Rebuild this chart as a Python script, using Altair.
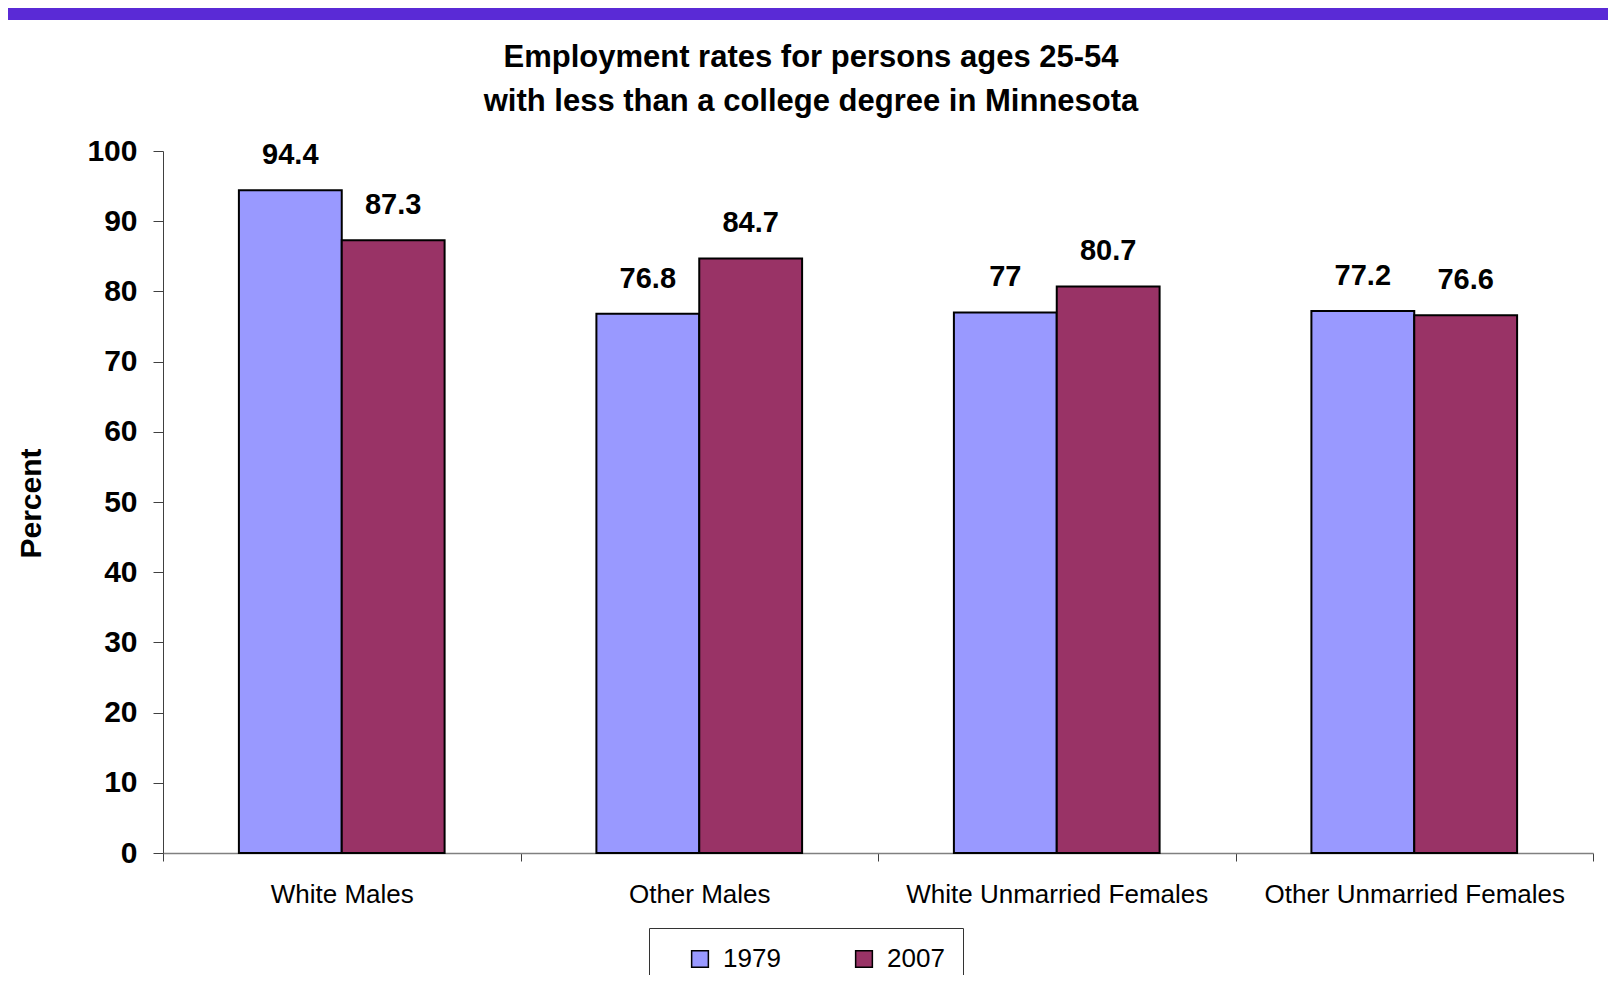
import altair as alt
import pandas as pd

categories = ["White Males", "Other Males", "White Unmarried Females", "Other Unmarried Females"]
years = ["1979", "2007"]
values_1979 = [94.4, 76.8, 77, 77.2]
values_2007 = [87.3, 84.7, 80.7, 76.6]
labels_1979 = ["94.4", "76.8", "77", "77.2"]
labels_2007 = ["87.3", "84.7", "80.7", "76.6"]
colors = ["#9999FF", "#993366"]
title_lines = ["Employment rates for persons ages 25-54", "with less than a college degree in Minnesota"]

rows = []
for i, c in enumerate(categories):
    rows.append({"category": c, "year": years[0], "value": values_1979[i], "label": labels_1979[i]})
    rows.append({"category": c, "year": years[1], "value": values_2007[i], "label": labels_2007[i]})
df = pd.DataFrame(rows)

FONT = "Liberation Sans"
W, H = 1430, 702

x_enc = alt.X(
    "category:N",
    sort=categories,
    title=None,
    scale=alt.Scale(paddingInner=0, paddingOuter=0),
    axis=alt.Axis(
        labelAngle=0,
        labelFont=FONT,
        labelFontSize=26,
        labelColor="#000000",
        labelPadding=20,
        labelLimit=400,
        tickBand="extent",
        tickSize=8,
        tickColor="#404040",
        domainColor="#808080",
        domainWidth=1.5,
        grid=False,
    ),
)
xoff_enc = alt.XOffset("year:N", sort=years, scale=alt.Scale(paddingInner=0, paddingOuter=0.738))
y_enc = alt.Y(
    "value:Q",
    scale=alt.Scale(domain=[0, 100], nice=False, zero=True),
    title="Percent",
    axis=alt.Axis(
        values=list(range(0, 101, 10)),
        labelFont=FONT,
        labelFontSize=30,
        labelFontWeight="bold",
        labelColor="#000000",
        labelPadding=16,
        tickSize=10,
        tickColor="#404040",
        domainColor="#404040",
        grid=False,
        titleFont=FONT,
        titleFontSize=30,
        titleFontWeight="bold",
        titleColor="#000000",
        titleX=-123,
        titleY=352,
        titleAngle=270,
        titleAlign="center",
        titleBaseline="alphabetic",
    ),
)

base = alt.Chart(df)

bars = base.mark_bar(stroke="#000000", strokeWidth=2).encode(
    x=x_enc,
    xOffset=xoff_enc,
    y=y_enc,
    color=alt.Color(
        "year:N",
        sort=years,
        scale=alt.Scale(domain=years, range=colors),
        legend=alt.Legend(
            title=None,
            orient="none",
            legendX=486,
            legendY=777,
            direction="horizontal",
            strokeColor="#333333",
            fillColor="#ffffff",
            padding=18,
            symbolType="square",
            symbolSize=280,
            symbolStrokeColor="#000000",
            symbolStrokeWidth=1.5,
            symbolOffset=20,
            labelFont=FONT,
            labelFontSize=26,
            labelColor="#000000",
            labelOffset=10,
            columnPadding=50,
        ),
    ),
)

texts = base.mark_text(
    font=FONT, fontSize=29, fontWeight="bold", color="#000000", baseline="alphabetic", dy=-26
).encode(
    x=alt.X("category:N", sort=categories),
    xOffset=alt.XOffset("year:N", sort=years),
    y=alt.Y("value:Q"),
    text="label:N",
)

band = alt.Chart(df).mark_rule(color="#5A2AD6", strokeWidth=14).encode(
    x=alt.value(-160), x2=alt.value(W + 20), y=alt.value(-138)
)

title_df = pd.DataFrame({"n": [0]})
title_mark = alt.Chart(title_df).mark_text(
    text=title_lines,
    font=FONT,
    fontSize=31,
    fontWeight="bold",
    color="#000000",
    align="center",
    baseline="alphabetic",
    lineHeight=44,
).encode(x=alt.value(648), y=alt.value(-84))

chart = (
    alt.layer(band, bars, texts, title_mark)
    .properties(
        width=W,
        height=H,
        padding={"left": 155, "top": 143, "right": 15, "bottom": 122},
        autosize=alt.AutoSizeParams(type="none"),
    )
    .configure(background="#ffffff")
    .configure_view(stroke=None)
)

chart.save("out.html", embed_options={"renderer": "svg", "actions": False})
